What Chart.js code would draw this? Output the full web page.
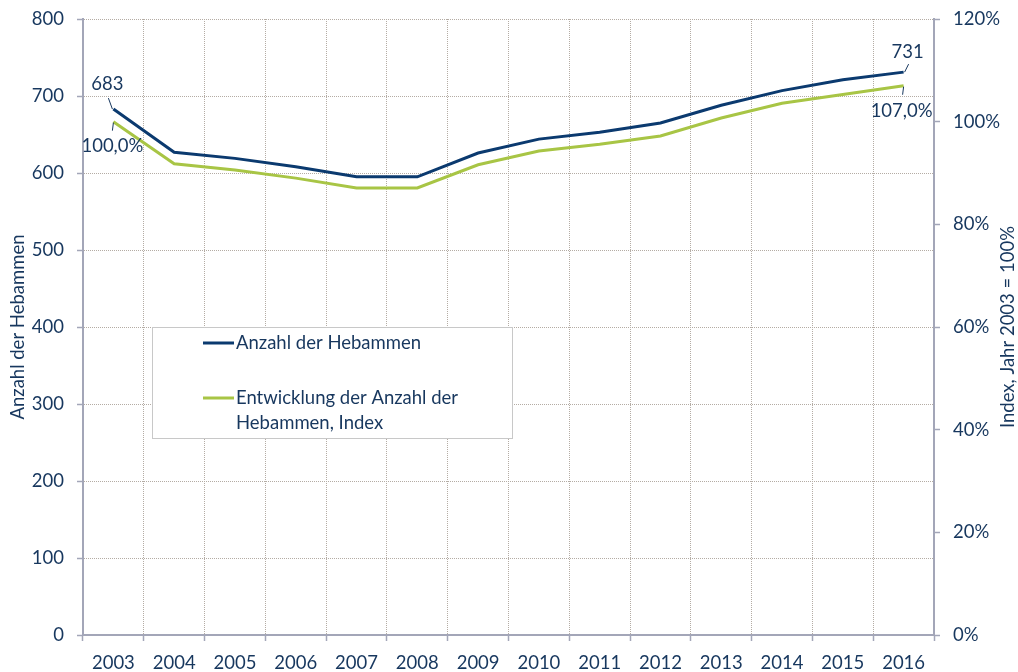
<!DOCTYPE html>
<html>
<head>
<meta charset="utf-8">
<script src="https://cdn.jsdelivr.net/npm/chart.js@4/dist/chart.umd.min.js"></script>
<style>
html,body{margin:0;padding:0;background:#fff;}
canvas{display:block;}
</style>
</head>
<body>
<canvas id="c" width="1018" height="672"></canvas>
<script>
const years = ['2003','2004','2005','2006','2007','2008','2009','2010','2011','2012','2013','2014','2015','2016'];
const hebammen = [683, 627, 619, 608, 595, 595, 626, 644, 653, 665, 688, 707, 721, 731];
const indexPct = [100.0, 91.8, 90.6, 89.0, 87.1, 87.1, 91.6, 94.3, 95.6, 97.2, 100.7, 103.6, 105.3, 107.0];
const seriesNames = ['Anzahl der Hebammen', 'Entwicklung der Anzahl der Hebammen, Index'];
const axisTitles = ['Anzahl der Hebammen', 'Index, Jahr 2003 = 100%'];

const TXT = '#17375E';
const NAVY = '#0B3A6F';
const GREEN = '#A8C545';
const AXIS = '#A3A6B8';
const GRID = '#B4ACA4';
const FONT = 'Lato, "Open Sans", sans-serif';
const FS = 18.5;

const fmtPct = v => v.toFixed(1).replace('.', ',') + '%';

const overlay = {
  id: 'overlay',
  afterDraw(chart) {
    const ctx = chart.ctx;
    const xs = chart.scales.x, y = chart.scales.y, y1 = chart.scales.y1;
    const ca = chart.chartArea;
    ctx.save();
    ctx.font = FS + 'px ' + FONT;
    ctx.fillStyle = TXT;
    ctx.textBaseline = 'middle';

    // axis titles
    ctx.save();
    ctx.translate(18, (ca.top + ca.bottom) / 2);
    ctx.rotate(-Math.PI / 2);
    ctx.textAlign = 'center';
    ctx.fillText(axisTitles[0], 0, 0);
    ctx.restore();
    ctx.save();
    ctx.translate(1008, (ca.top + ca.bottom) / 2);
    ctx.rotate(-Math.PI / 2);
    ctx.textAlign = 'center';
    ctx.fillText(axisTitles[1], 0, 0);
    ctx.restore();

    // data labels with leader lines
    const last = years.length - 1;
    const p0x = xs.getPixelForValue(0), pLx = xs.getPixelForValue(last);
    const a0 = y.getPixelForValue(hebammen[0]), aL = y.getPixelForValue(hebammen[last]);
    const i0 = y1.getPixelForValue(indexPct[0]), iL = y1.getPixelForValue(indexPct[last]);
    ctx.strokeStyle = TXT; ctx.lineWidth = 1;
    ctx.beginPath();
    ctx.moveTo(p0x - 1, a0); ctx.lineTo(p0x - 5, a0 - 11);
    ctx.moveTo(p0x, i0 + 1); ctx.lineTo(p0x - 1, i0 + 9);
    ctx.moveTo(pLx + 1, aL); ctx.lineTo(pLx + 5, aL - 8);
    ctx.moveTo(pLx, iL + 1); ctx.lineTo(pLx - 1, iL + 9);
    ctx.stroke();
    ctx.textAlign = 'center';
    ctx.fillText(String(hebammen[0]), p0x - 6, a0 - 25);
    ctx.fillText(fmtPct(indexPct[0]), p0x - 1, i0 + 24);
    ctx.fillText(String(hebammen[last]), pLx + 4, aL - 20);
    ctx.fillText(fmtPct(indexPct[last]), pLx - 2, iL + 25);

    // legend box
    const bx = 152, by = 327, bw = 360, bh = 111;
    ctx.fillStyle = '#fff';
    ctx.fillRect(bx, by, bw, bh);
    ctx.strokeStyle = '#C8C8C8';
    ctx.lineWidth = 1;
    ctx.strokeRect(bx + 0.5, by + 0.5, bw, bh);
    const colors = [NAVY, GREEN];
    const rows = [[seriesNames[0]], ['Entwicklung der Anzahl der', 'Hebammen, Index']];
    const ys = [343, 398];
    ctx.lineWidth = 3;
    ctx.textAlign = 'left';
    rows.forEach((lines, i) => {
      ctx.strokeStyle = colors[i];
      ctx.beginPath();
      ctx.moveTo(203, ys[i]); ctx.lineTo(234, ys[i]);
      ctx.stroke();
      ctx.fillStyle = TXT;
      lines.forEach((t, j) => ctx.fillText(t, 236, ys[i] + j * 25));
    });
    ctx.restore();
  }
};

new Chart(document.getElementById('c'), {
  type: 'line',
  data: {
    labels: years,
    datasets: [
      { label: seriesNames[0], data: hebammen, yAxisID: 'y', borderColor: NAVY, borderWidth: 3, pointRadius: 0, tension: 0, fill: false },
      { label: seriesNames[1], data: indexPct, yAxisID: 'y1', borderColor: GREEN, borderWidth: 3, pointRadius: 0, tension: 0, fill: false }
    ]
  },
  options: {
    responsive: false,
    animation: false,
    devicePixelRatio: 1,
    layout: { padding: { top: 19, left: 0, right: 0, bottom: 0 } },
    plugins: { legend: { display: false }, tooltip: { enabled: false } },
    scales: {
      x: {
        offset: true,
        grid: { offset: true, color: GRID, lineWidth: 1, tickLength: 6, tickColor: AXIS, tickBorderDash: [], tickWidth: 1.5 },
        border: { color: AXIS, width: 2, dash: [1, 1] },
        ticks: { color: TXT, font: { family: FONT, size: FS }, padding: 11, maxRotation: 0, autoSkip: false },
        afterFit(s) { s.height = 37; s.paddingLeft = 0; s.paddingRight = 0; }
      },
      y: {
        position: 'left', min: 0, max: 800,
        grid: { color: GRID, lineWidth: 1, tickLength: 6, tickColor: AXIS, tickBorderDash: [], tickWidth: 1.5 },
        border: { color: AXIS, width: 2, dash: [1, 1] },
        ticks: { stepSize: 100, color: TXT, font: { family: FONT, size: FS }, padding: 13 },
        afterFit(s) { s.width = 83; s.paddingTop = 0; s.paddingBottom = 0; }
      },
      y1: {
        position: 'right', min: 0, max: 120,
        grid: { drawOnChartArea: false, tickLength: 6, tickColor: AXIS, tickBorderDash: [], tickWidth: 1.5 },
        border: { color: AXIS, width: 2 },
        ticks: { stepSize: 20, color: TXT, font: { family: FONT, size: FS }, padding: 13, callback: v => v + '%' },
        afterFit(s) { s.width = 84; s.paddingTop = 0; s.paddingBottom = 0; }
      }
    }
  },
  plugins: [overlay]
});
</script>
</body>
</html>
